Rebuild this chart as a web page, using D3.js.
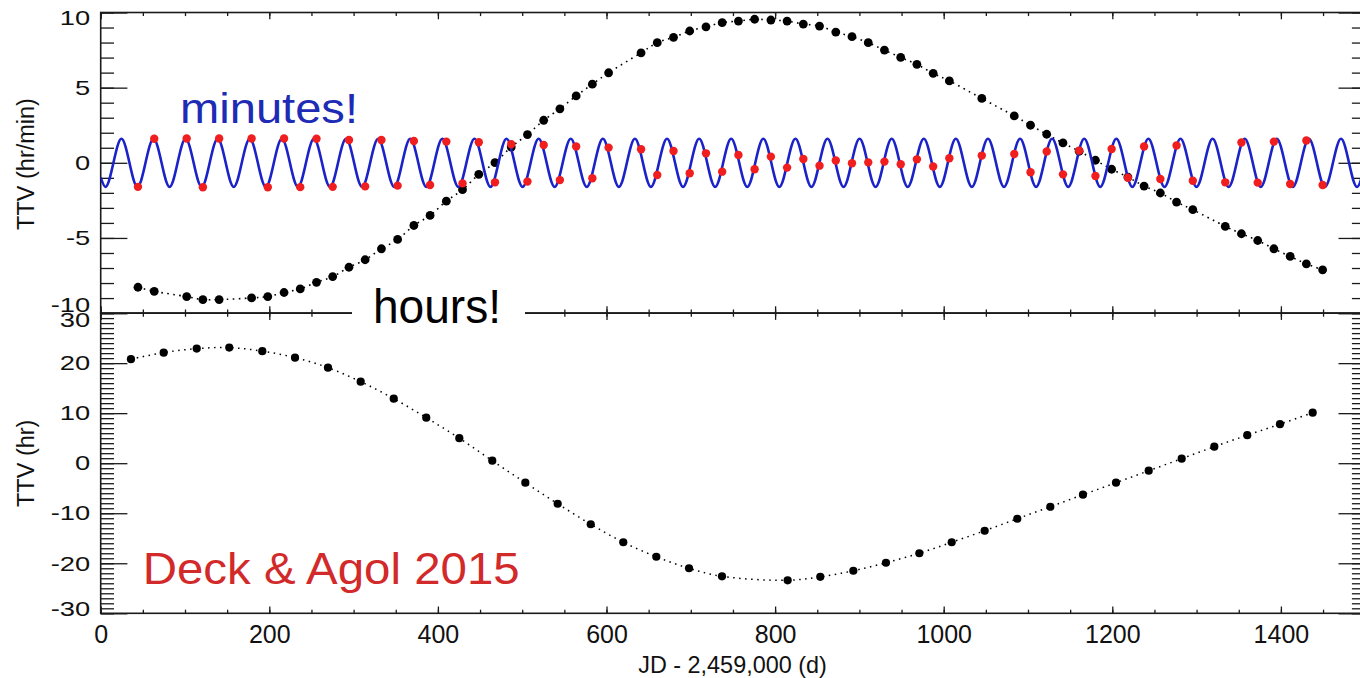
<!DOCTYPE html>
<html>
<head>
<meta charset="utf-8">
<script src="https://cdn.jsdelivr.net/npm/d3@7"></script>
<style>
  body { margin: 0; background: #fff; }
  svg { display: block; }
  text { font-family: "Liberation Sans", Arial, Helvetica, sans-serif; }
</style>
</head>
<body>
<svg id="chart" width="1360" height="678"></svg>
<script>
// ---------------- DATA ----------------
// Top panel: transit epochs (JD - 2,459,000) shared by both top series
const topDays = [44.2, 63.5, 102.0, 121.2, 140.5, 179.0, 198.2, 217.5, 236.7, 256.0, 275.2, 294.5, 313.7, 333.0, 352.2, 371.5, 390.7, 410.0, 429.2, 448.5, 467.7, 487.0, 506.2, 525.5, 544.7, 564.0, 583.2, 602.5, 641.0, 660.2, 679.5, 698.7, 718.0, 737.2, 756.5, 775.7, 795.0, 814.2, 833.5, 852.7, 872.0, 891.2, 910.5, 929.7, 949.0, 968.2, 987.5, 1006.7, 1045.2, 1083.7, 1103.0, 1122.2, 1141.5, 1160.7, 1180.0, 1199.2, 1218.5, 1237.7, 1257.0, 1276.2, 1295.5, 1334.0, 1353.2, 1372.5, 1391.7, 1411.0, 1430.2, 1449.5];
// TTV in hours (black points)
const topHoursTTV = [-8.28, -8.55, -8.9, -9.1, -9.1, -8.99, -8.9, -8.63, -8.39, -7.95, -7.57, -6.95, -6.45, -5.72, -5.1, -4.17, -3.5, -2.55, -1.79, -0.77, 0.01, 1.05, 1.88, 2.83, 3.59, 4.45, 5.23, 5.99, 7.32, 7.99, 8.35, 8.77, 9.05, 9.32, 9.43, 9.55, 9.5, 9.43, 9.23, 9.1, 8.7, 8.39, 7.99, 7.5, 7.01, 6.55, 5.95, 5.45, 4.28, 3.12, 2.5, 1.9, 1.32, 0.77, 0.17, -0.43, -0.95, -1.55, -2.01, -2.61, -3.12, -4.23, -4.72, -5.17, -5.72, -6.23, -6.72, -7.12];
// TTV in minutes (red points)
const topMinutesTTV = [-1.6, 1.6, 1.62, -1.63, 1.62, 1.62, -1.63, 1.62, -1.62, 1.6, -1.6, 1.52, -1.57, 1.52, -1.52, 1.45, -1.48, 1.41, -1.37, 1.37, -1.3, 1.23, -1.25, 1.19, -1.15, 1.08, -1.03, 1.01, 0.9, -0.81, 0.79, -0.7, 0.63, -0.59, 0.52, -0.43, 0.41, -0.32, 0.25, -0.19, 0.15, -0.03, 0.03, 0.08, -0.1, 0.23, -0.25, 0.3, 0.48, 0.59, -0.63, 0.75, -0.77, 0.81, -0.88, 0.92, -0.99, 1.08, -1.08, 1.15, -1.19, -1.3, 1.35, -1.32, 1.41, -1.41, 1.48, -1.48];
// Blue model curve (minutes): days of its maxima and minima, its amplitude, and its end values
const bluePeakDays = [24.6, 62.7, 100.7, 138.8, 176.9, 214.9, 253.0, 291.1, 329.2, 367.2, 405.3, 443.4, 481.4, 519.5, 557.6, 595.7, 633.7, 671.8, 709.9, 747.9, 786.0, 824.1, 862.1, 900.2, 938.3, 976.4, 1014.4, 1052.5, 1090.6, 1128.6, 1166.7, 1204.8, 1242.8, 1280.9, 1319.0, 1357.1, 1395.1, 1433.2, 1471.3];
const blueTroughDays = [5.6, 43.6, 81.7, 119.8, 157.8, 195.9, 234.0, 272.0, 310.1, 348.2, 386.3, 424.3, 462.4, 500.5, 538.5, 576.6, 614.7, 652.7, 690.8, 728.9, 767.0, 805.0, 843.1, 881.2, 919.2, 957.3, 995.4, 1033.4, 1071.5, 1109.6, 1147.7, 1185.7, 1223.8, 1261.9, 1299.9, 1338.0, 1376.1, 1414.2, 1452.2, 1490.3];
const blueAmplitude = 1.6;
const blueEndDays = [0, 1500];
const blueEndValues = [-0.97, 0.05];

// Bottom panel: transit epochs and TTV in hours
const bottomDays = [35.9, 74.7, 113.9, 152.5, 191.7, 230.5, 269.6, 308.4, 347.6, 386.2, 425.4, 464.5, 503.7, 542.1, 581.3, 619.9, 659.1, 697.9, 737.0, 814.9, 853.6, 892.8, 931.5, 971.1, 1009.5, 1048.6, 1087.3, 1126.5, 1165.2, 1204.4, 1243.2, 1282.3, 1321.0, 1360.1, 1398.9, 1437.7];
const bottomHoursTTV = [20.8, 22.1, 22.9, 23.1, 22.4, 21.1, 19.1, 16.3, 12.9, 9.1, 5.0, 0.5, -3.9, -8.1, -12.2, -15.8, -18.7, -21.0, -22.6, -23.4, -22.7, -21.5, -19.9, -18.0, -15.8, -13.5, -11.1, -8.7, -6.3, -3.9, -1.5, 0.9, 3.3, 5.6, 7.8, 10.1];

// Axis ticks
const xDomain = [0, 1500];
const xMajorTicks = [0, 200, 400, 600, 800, 1000, 1200, 1400];
const xMinorTicks = d3.range(0, 1501, 50);
const topDomain = [-10, 10];
const topMajorTicks = [-10, -5, 0, 5, 10];
const topMinorTicks = d3.range(-10, 11, 1);
const botDomain = [-30, 30];
const botMajorTicks = [-30, -20, -10, 0, 10, 20, 30];
const botMinorTicks = d3.range(-30, 31, 1);

// ---------------- LAYOUT ----------------
const X0 = 100.7, X1 = 1365.2;
const TOP0 = 12.5, MID = 313.1, BOT1 = 613.3;
const svg = d3.select('#chart');
const x = d3.scaleLinear().domain(xDomain).range([X0, X1]);
const yTop = d3.scaleLinear().domain(topDomain).range([MID, TOP0]);
const yBot = d3.scaleLinear().domain(botDomain).range([BOT1, MID]);
const AX = '#1a1a1a';
const plainFmt = d => String(d);   // ASCII hyphen-minus, as in the reference

svg.append('defs').append('clipPath').attr('id', 'clipTop')
  .append('rect').attr('x', X0).attr('y', 0).attr('width', X1 - X0).attr('height', MID);

function stretch(sel, k) {
  sel.each(function () {
    const L = this.getComputedTextLength();
    d3.select(this).attr('textLength', L * k).attr('lengthAdjust', 'spacingAndGlyphs');
  });
}

function drawAxes(y, majors, minors, yTopPx, yBotPx, showXLabels, endShiftTop, endShiftBot) {
  const style = g => {
    g.select('.domain').remove();
    g.attr('color', AX);
    g.selectAll('line').attr('stroke-width', 1.3);
  };
  // left
  svg.append('g').attr('transform', `translate(${X0},0)`)
    .call(d3.axisLeft(y).tickValues(minors).tickSize(-13.3).tickSizeOuter(0).tickFormat(''))
    .call(style);
  const gl = svg.append('g').attr('transform', `translate(${X0},0)`)
    .call(d3.axisLeft(y).tickValues(majors).tickSize(-26.7).tickSizeOuter(0).tickPadding(10.5).tickFormat(plainFmt))
    .call(style);
  const dmax = d3.max(majors), dmin = d3.min(majors);
  gl.selectAll('text')
    .attr('font-size', 21).attr('fill', '#111')
    .attr('font-family', '"Liberation Sans", Arial, Helvetica, sans-serif')
    .attr('y', d => d === dmax ? endShiftTop : (d === dmin ? endShiftBot : 0));
  stretch(gl.selectAll('text'), 1.3);
  // right
  svg.append('g').attr('transform', `translate(${X1},0)`)
    .call(d3.axisRight(y).tickValues(minors).tickSize(-13.3).tickSizeOuter(0).tickFormat(''))
    .call(style);
  svg.append('g').attr('transform', `translate(${X1},0)`)
    .call(d3.axisRight(y).tickValues(majors).tickSize(-26.7).tickSizeOuter(0).tickFormat(''))
    .call(style);
  // top x (ticks point down)
  svg.append('g').attr('transform', `translate(0,${yTopPx})`)
    .call(d3.axisTop(x).tickValues(xMinorTicks).tickSize(-3.6).tickSizeOuter(0).tickFormat(''))
    .call(style);
  svg.append('g').attr('transform', `translate(0,${yTopPx})`)
    .call(d3.axisTop(x).tickValues(xMajorTicks).tickSize(-6.8).tickSizeOuter(0).tickFormat(''))
    .call(style);
  // bottom x (ticks point up)
  svg.append('g').attr('transform', `translate(0,${yBotPx})`)
    .call(d3.axisBottom(x).tickValues(xMinorTicks).tickSize(-3.6).tickSizeOuter(0).tickFormat(''))
    .call(style);
  const gb = svg.append('g').attr('transform', `translate(0,${yBotPx})`)
    .call(d3.axisBottom(x).tickValues(xMajorTicks).tickSize(-6.8).tickSizeOuter(0).tickPadding(12)
      .tickFormat(showXLabels ? plainFmt : ''))
    .call(style);
  gb.selectAll('text').attr('font-size', 25).attr('fill', '#111')
    .attr('font-family', '"Liberation Sans", Arial, Helvetica, sans-serif');
  // frame
  svg.append('rect').attr('x', X0).attr('y', yTopPx).attr('width', X1 - X0).attr('height', yBotPx - yTopPx)
    .attr('fill', 'none').attr('stroke', AX).attr('stroke-width', 1.6);
}

drawAxes(yTop, topMajorTicks, topMinorTicks, TOP0, MID, false, 5, -8);
drawAxes(yBot, botMajorTicks, botMinorTicks, MID, BOT1, true, 7, -5);

// ---------------- TOP PANEL MARKS ----------------
const topBlack = topDays.map((d, i) => [d, topHoursTTV[i]]);
const topRed = topDays.map((d, i) => [d, topMinutesTTV[i]]);
const gTop = svg.append('g').attr('clip-path', 'url(#clipTop)');

gTop.append('path').datum(topBlack)
  .attr('d', d3.line().x(d => x(d[0])).y(d => yTop(d[1])).curve(d3.curveCatmullRom.alpha(0.5)))
  .attr('fill', 'none').attr('stroke', '#000').attr('stroke-width', 1.6)
  .attr('stroke-dasharray', '1.6,4.4');
gTop.selectAll('circle.blk').data(topBlack).join('circle').attr('class', 'blk')
  .attr('cx', d => x(d[0])).attr('cy', d => yTop(d[1])).attr('r', 4.4).attr('fill', '#000');

const bluePts = []
  .concat(blueEndDays.map((d, i) => [d, blueEndValues[i]]))
  .concat(bluePeakDays.map(d => [d, blueAmplitude]))
  .concat(blueTroughDays.map(d => [d, -blueAmplitude]))
  .sort((a, b) => a[0] - b[0]);
gTop.append('path').datum(bluePts)
  .attr('d', d3.line().x(d => x(d[0])).y(d => yTop(d[1])).curve(d3.curveMonotoneX))
  .attr('fill', 'none').attr('stroke', '#1a22c8').attr('stroke-width', 2.6);

gTop.selectAll('circle.red').data(topRed).join('circle').attr('class', 'red')
  .attr('cx', d => x(d[0])).attr('cy', d => yTop(d[1])).attr('r', 4.2).attr('fill', '#f01e1e');

// ---------------- BOTTOM PANEL MARKS ----------------
const bot = bottomDays.map((d, i) => [d, bottomHoursTTV[i]]);
svg.append('path').datum(bot)
  .attr('d', d3.line().x(d => x(d[0])).y(d => yBot(d[1])).curve(d3.curveCatmullRom.alpha(0.5)))
  .attr('fill', 'none').attr('stroke', '#000').attr('stroke-width', 1.5)
  .attr('stroke-dasharray', '1.5,4.5');
svg.selectAll('circle.bot').data(bot).join('circle').attr('class', 'bot')
  .attr('cx', d => x(d[0])).attr('cy', d => yBot(d[1])).attr('r', 4.1).attr('fill', '#000');

// ---------------- TEXT ----------------
svg.append('text').attr('transform', 'translate(33.5,164) rotate(-90)')
  .attr('text-anchor', 'middle').attr('font-size', 23.5).attr('fill', '#111').text('TTV (hr/min)');
svg.append('text').attr('transform', 'translate(33.5,463.3) rotate(-90)')
  .attr('text-anchor', 'middle').attr('font-size', 23.5).attr('fill', '#111').text('TTV (hr)');
svg.append('text').attr('x', 732.5).attr('y', 673.3)
  .attr('text-anchor', 'middle').attr('font-size', 23.4).attr('fill', '#111').text('JD - 2,459,000 (d)');

// "hours!" label sitting on the panel boundary with a white backing
svg.append('rect').attr('x', 352).attr('y', 283).attr('width', 173).attr('height', 50).attr('fill', '#fff');
svg.append('text').attr('x', 373).attr('y', 323.3).attr('font-size', 48).attr('fill', '#000')
  .attr('textLength', 128).attr('lengthAdjust', 'spacingAndGlyphs').text('hours!');
svg.append('text').attr('x', 180).attr('y', 123).attr('font-size', 42).attr('fill', '#1e2bb4')
  .attr('textLength', 178).attr('lengthAdjust', 'spacingAndGlyphs').text('minutes!');
svg.append('text').attr('x', 142.7).attr('y', 584).attr('font-size', 45).attr('fill', '#d22a2a')
  .attr('textLength', 377).attr('lengthAdjust', 'spacingAndGlyphs').text('Deck & Agol 2015');
</script>
</body>
</html>
